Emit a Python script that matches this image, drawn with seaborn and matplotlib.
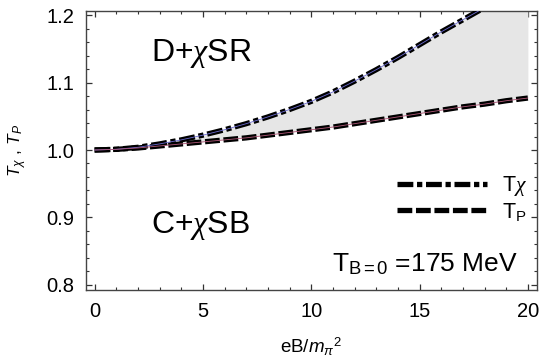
import numpy as np
import pandas as pd
import seaborn as sns
import matplotlib
matplotlib.use("Agg")
import matplotlib.pyplot as plt
from matplotlib.lines import Line2D
from matplotlib.ticker import MultipleLocator

# ---- data ----
eB = [0, 1, 2, 3, 4, 5, 6, 7, 8, 9, 10, 11, 12, 13, 14, 15, 16, 17, 18, 19, 20]
T_chi = [1.000, 1.001, 1.004, 1.009, 1.015, 1.022, 1.030, 1.039, 1.049, 1.060,
         1.072, 1.086, 1.102, 1.119, 1.137, 1.156, 1.175, 1.193, 1.211, 1.230, 1.249]
T_P = [1.000, 1.001, 1.003, 1.006, 1.009, 1.012, 1.015, 1.018, 1.022, 1.026,
       1.030, 1.034, 1.039, 1.044, 1.049, 1.054, 1.059, 1.064, 1.068, 1.073, 1.077]
y_ticks = [0.8, 0.9, 1.0, 1.1, 1.2]
x_ticks = [0, 5, 10, 15, 20]

df = pd.DataFrame({"eB": eB, "T_chi": T_chi, "T_P": T_P})

sns.set_theme(style="ticks")
plt.rcParams["font.family"] = ["Liberation Sans", "DejaVu Sans"]
plt.rcParams["mathtext.fontset"] = "custom"
plt.rcParams["mathtext.rm"] = "Liberation Sans"
plt.rcParams["mathtext.it"] = "Liberation Serif:italic"
plt.rcParams["mathtext.sf"] = "Liberation Sans:italic"
plt.rcParams["text.color"] = "black"
plt.rcParams["axes.labelcolor"] = "black"

fig = plt.figure(figsize=(5.4, 3.62), dpi=100)
ax = fig.add_axes([0.1587, 0.199, 0.8357, 0.7714])

ax.fill_between(df["eB"], df["T_P"], df["T_chi"], color="#e6e6e6", lw=0, zorder=1)

lw = 3.8
ls_chi = (0, (3.0, 0.7, 1.0, 0.7))
ls_p = (0, (2.8, 0.7))
sns.lineplot(data=df, x="eB", y="T_chi", ax=ax, color="black", lw=lw,
             linestyle=ls_chi, zorder=3)
sns.lineplot(data=df, x="eB", y="T_P", ax=ax, color="black", lw=lw,
             linestyle=ls_p, zorder=3)
sns.lineplot(data=df, x="eB", y="T_chi", ax=ax, color="#6a6ad0", lw=0.6, zorder=4)
sns.lineplot(data=df, x="eB", y="T_P", ax=ax, color="#b05878", lw=0.6, zorder=4)

ax.set_xlim(-0.41, 20.42)
ax.set_ylim(0.7926, 1.2064)
ax.set_xticks(x_ticks)
ax.set_yticks(y_ticks)
ax.set_xticklabels([str(v) for v in x_ticks])
ax.set_yticklabels([f"{v:.1f}" for v in y_ticks])
ax.xaxis.set_minor_locator(MultipleLocator(1))
ax.yaxis.set_minor_locator(MultipleLocator(0.02))
ax.tick_params(which="both", direction="in", top=True, right=True,
               color="#333333", labelsize=14.5, labelcolor="black")
ax.tick_params(which="major", length=4, width=0.9)
ax.tick_params(axis="x", which="major", pad=9)
ax.tick_params(axis="y", which="major", pad=8)
ax.tick_params(which="minor", length=2.2, width=0.8)
for s in ax.spines.values():
    s.set_color("#444444")
    s.set_linewidth(1.0)

ax.set_xlabel(r"eB/$\mathsf{m_\pi}^2$", fontsize=13.5)
ax.set_ylabel(r"$\mathsf{T_\chi}$ , $\mathsf{T_P}$", fontsize=12.5)
ax.xaxis.set_label_coords(0.5, -0.165)
ax.yaxis.set_label_coords(-0.125, 0.5)

ax.text(2.6, 1.1437, r"D+$\chi$SR", fontsize=23, ha="left", va="center")
ax.text(2.6, 0.8874, r"C+$\chi$SB", fontsize=23, ha="left", va="center")
ax.text(19.55, 0.8197, r"T$_\mathrm{B=0}$ =175 MeV", fontsize=19, ha="right",
        va="baseline")

handles = [Line2D([], [], color="black", lw=lw, linestyle=ls_chi),
           Line2D([], [], color="black", lw=lw, linestyle=ls_p)]
ax.legend(handles, [r"T$\chi$", r"T$_\mathrm{P}$"], loc="upper left",
          bbox_to_anchor=(0.689, 0.415), frameon=False, fontsize=15.5,
          handlelength=4.2, handletextpad=0.7, borderpad=0, borderaxespad=0,
          labelspacing=0.12)

fig.savefig("out.png", dpi=100)
